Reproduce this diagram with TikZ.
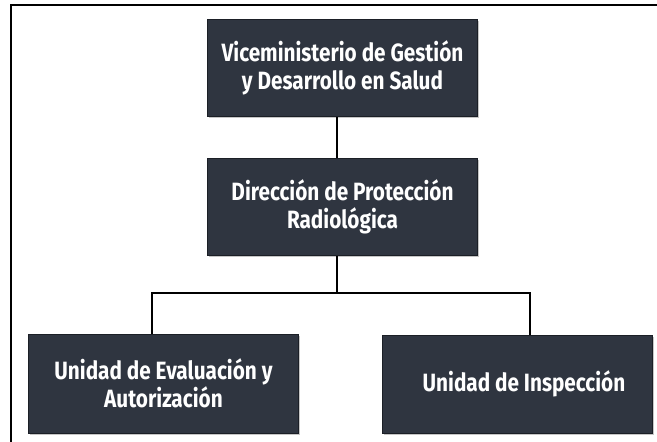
\documentclass[tikz,border=0pt]{standalone}
\usepackage{fontspec}
\newfontfamily\unitfont[FakeStretch=0.83]{Fira Sans}
\usetikzlibrary{positioning,shadows}
\definecolor{slate}{HTML}{2F3540}
\definecolor{slateedge}{HTML}{1B1F26}

\begin{document}
\begin{tikzpicture}[x=1pt, y=-1pt,
  unit/.style={draw=slateedge, line width=1pt, fill=slate, text=white,
    minimum width=270pt, minimum height=97pt, align=center,
    font=\unitfont\bfseries\fontsize{25}{28}\selectfont,
    drop shadow={shadow xshift=1.5pt, shadow yshift=-1.5pt, fill=gray, opacity=0.45}},
  link/.style={line width=2.6pt, black},
  frame/.style={line width=2pt, black}
]
\useasboundingbox (0,0) rectangle (657,442);
\draw[frame] (11,442) -- (11,5) -- (657,5);
\node[unit] (vice) at (342.5,68) {Viceministerio de Gestión\\y Desarrollo en Salud};
\node[unit, below=41pt of vice] (dpr) {Dirección de Protección\\Radiológica};
\node[unit, minimum height=99pt] (uea) at (163.5,383.5) {Unidad de Evaluación y\\Autorización};
\node[unit, minimum height=98pt] (uins) at (517,384) {\hspace*{14pt}Unidad de Inspección};
\coordinate (bus) at (337,293);
\coordinate (busL) at (152,293);
\coordinate (busR) at (530,293);
\draw[link] (vice.south -| bus) -- (dpr.north -| bus);
\draw[link] (dpr.south -| bus) -- (bus);
\draw[link] (busL |- uea.north) -- (busL) -- (busR) -- (busR |- uins.north);
\end{tikzpicture}
\end{document}
